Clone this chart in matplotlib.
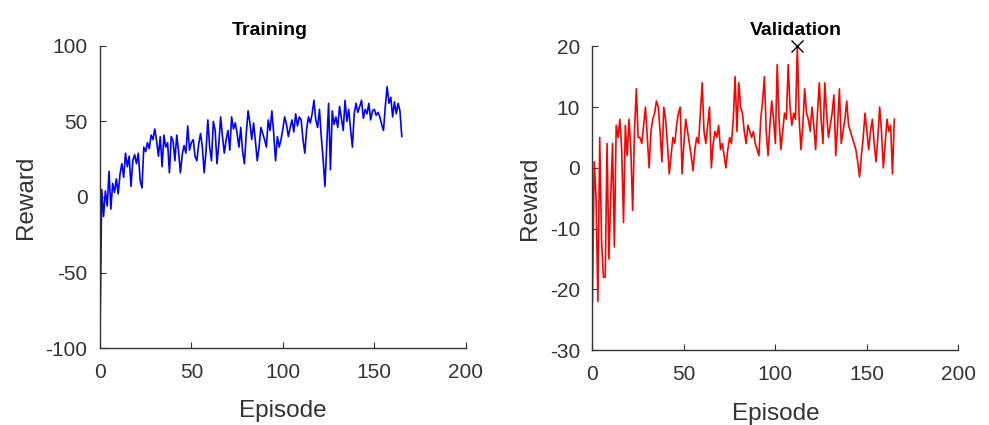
import numpy as np
import matplotlib
matplotlib.use('Agg')
import matplotlib.pyplot as plt

plt.rcParams['font.family'] = ['Liberation Sans', 'DejaVu Sans']
plt.rcParams['axes.unicode_minus'] = False

# training reward per episode
train_reward = [
    -100, 5, -13, 4, -6, 17, -8, 9, 3, 12,
    2, 15, 22, 13, 29, 20, 27, 7, 24, 28,
    22, 29, 11, 6, 33, 30, 36, 32, 41, 38,
    45, 37, 27, 40, 20, 41, 33, 36, 16, 40,
    37, 24, 41, 30, 16, 28, 34, 29, 47, 31,
    36, 38, 27, 24, 35, 42, 33, 16, 30, 51,
    33, 24, 50, 44, 22, 35, 53, 40, 29, 38,
    44, 31, 53, 45, 49, 42, 33, 46, 30, 22,
    42, 57, 49, 38, 49, 37, 24, 33, 46, 42,
    38, 33, 51, 44, 57, 42, 24, 40, 33, 38,
    45, 53, 48, 40, 46, 51, 43, 55, 47, 53,
    51, 38, 29, 45, 53, 49, 55, 64, 51, 46,
    58, 40, 25, 7, 35, 62, 18, 57, 48, 53,
    46, 60, 52, 44, 64, 50, 58, 45, 33, 55,
    62, 56, 60, 64, 52, 58, 55, 62, 51, 57,
    58, 54, 56, 53, 48, 44, 60, 73, 62, 66,
    53, 63, 55, 62, 57, 40,
]

# validation reward per episode
val_reward = [
    -22, 1, -5, -22, 5, -12, -18, -18, 4, -15,
    -5, 4, -13, 7, 5, 8, 3, -9, 7, 2,
    8, 3, -7, 6, 13, 5, 5, 4, 7, 10,
    5, 0, 6, 8, 9, 11, 10, 6, 1, 10,
    8, 4, -1, 2, 5, 4, 7, 9, 10, -1,
    4, 8, 6, 4, 2, -0.5, 3, 5, 4, 9,
    14, 6, 4, 7, 10, 0, 4, 6, 5, 7,
    3, 4, 2, 0, 3, 5, 4, 8, 15, 6,
    14, 10, 9, 6, 4, 7, 6, 5, 6, 4,
    3, 2, 8, 11, 15, 6, 2, 7, 11, 8,
    4, 17, 8, 3, 6, 9, 8, 17, 10, 7,
    9, 8, 20, 8, 3, 7, 13, 9, 8, 6,
    10, 7, 3, 9, 14, 8, 4, 14, 9, 5,
    7, 9, 12, 2, 7, 13, 4, 6, 8, 11,
    7, 6, 5, 4, 3, 1, -1.5, 2, 5, 9,
    6, 3, 6, 8, 4, 1, 5, 10, 6, 0,
    4, 8, 6, 7, -1, 8,
]

train_ep = np.arange(len(train_reward))
val_ep = np.arange(len(val_reward))
best = int(np.argmax(val_reward))

fig = plt.figure(figsize=(9.89, 4.25), dpi=100)
ax1 = fig.add_axes([0.101, 0.181, 0.370, 0.711])
ax2 = fig.add_axes([0.599, 0.176, 0.370, 0.715])

ax1.plot(train_ep, train_reward, color='#0000ff', lw=1.2)
ax1.set_xlim(0, 200)
ax1.set_ylim(-100, 100)
ax1.set_xticks([0, 50, 100, 150, 200])
ax1.set_yticks([-100, -50, 0, 50, 100])
ax1.set_title('Training', fontsize=14, fontweight='bold', x=0.464, pad=8)

ax2.plot(val_ep, val_reward, color='#ff0000', lw=1.2)
ax2.plot(val_ep[best], val_reward[best], 'x', color='black', ms=9, mew=1.0,
         clip_on=False, zorder=5)
ax2.set_xlim(0, 200)
ax2.set_ylim(-30, 20)
ax2.set_xticks([0, 50, 100, 150, 200])
ax2.set_yticks([-30, -20, -10, 0, 10, 20])
ax2.set_title('Validation', fontsize=14, fontweight='bold', x=0.555, pad=8)

for ax in (ax1, ax2):
    ax.set_xlabel('Episode', fontsize=17.5, color='#333333', labelpad=13)
    ax.set_ylabel('Reward', fontsize=17.5, color='#333333', labelpad=6)
    ax.spines['top'].set_visible(False)
    ax.spines['right'].set_visible(False)
    for s in ('left', 'bottom'):
        ax.spines[s].set_color('#333333')
        ax.spines[s].set_linewidth(1.0)
    ax.tick_params(direction='in', length=4, width=0.8, labelsize=15,
                   colors='#333333')
    ax.tick_params(axis='x', pad=11)
    ax.tick_params(axis='y', pad=9)

plt.savefig('out.png', dpi=100)
